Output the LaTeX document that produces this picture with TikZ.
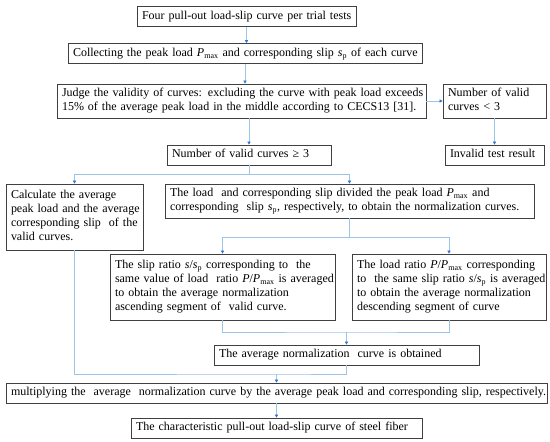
\documentclass[tikz,border=0pt]{standalone}
\usepackage{fontspec}
\setmainfont{Liberation Serif}
\usetikzlibrary{arrows.meta,calc}
\definecolor{lineblue}{HTML}{9DC3E6}
\definecolor{tipblue}{HTML}{2E75D0}
\definecolor{boxgray}{HTML}{404040}
\newcommand{\Pmx}{\textit{P}\textsubscript{max}}
\newcommand{\ssp}{\textit{s}\textsubscript{p}}
\newcommand{\tl}[1]{\begin{tabular}{@{}l@{}}#1\end{tabular}}
\begin{document}
\begin{tikzpicture}[x=1pt,y=-1pt,
  box/.style 2 args={draw=boxgray, line width=0.8pt, inner xsep=5pt, inner ysep=0pt, align=left,
    font=\fontsize{12}{14}\selectfont, anchor=center,
    minimum width=#1pt, text width=#1pt-10pt, minimum height=#2pt},
  conn/.style={draw=lineblue, line width=0.9pt},
  arr/.style={conn, -{Triangle[length=3pt,width=3.2pt,color=tipblue]}}]
\useasboundingbox (0,0) rectangle (550,442);

\node[box={219}{20}] (b1) at (246.5,16.5)
  {\tl{Four pull-out load-slip curve per trial tests}};
\node[box={354}{20}] (b2) at (245,53.5)
  {\tl{Collecting the peak load \Pmx{} and corresponding slip \ssp{} of each curve}};
\node[box={369}{34}] (b3) at (241.5,101)
  {\tl{Judge the validity of curves: excluding the curve with peak load exceeds\\15\% of the average peak load in the middle according to CECS13 [31].}};
\node[box={103}{34}] (b4) at (494.5,101)
  {\tl{Number of valid\\curves < 3}};
\node[box={99}{20}] (b5) at (494.5,155)
  {\tl{Invalid test result}};
\node[box={164}{20}] (b6) at (249,155)
  {\tl{Number of valid curves ≥ 3}};
\node[box={137}{66}] (b7) at (74.5,217)
  {\tl{Calculate the average\\peak load and the average\\corresponding slip\ \ of the\\valid curves.}};
\node[box={369}{34}] (b8) at (349.5,201)
  {\tl{The load\ \ and corresponding slip divided the peak load \Pmx{} and\\corresponding\ \ slip \ssp, respectively, to obtain the normalization curves.}};
\node[box={225}{66}] (b9) at (222.5,287)
  {\tl{The slip ratio \textit{s}/\ssp{} corresponding to\ \ the\\same value of load\ \ ratio \textit{P}/\Pmx{} is averaged\\to obtain the average normalization\\ascending segment of\ \ valid curve.}};
\node[box={194}{66}] (b10) at (449,287)
  {\tl{The load ratio \textit{P}/\Pmx{} corresponding\\to\ \ the same slip ratio \textit{s}/\ssp{} is averaged\\to obtain the average normalization\\descending segment of curve}};
\node[box={265}{20}] (b11) at (346.5,355)
  {\tl{The average normalization\ \ curve is obtained}};
\node[box={541}{20}] (b12) at (276.5,393)
  {\tl{multiplying the\ \ average\ \ normalization curve by the average peak load and corresponding slip, respectively.}};
\node[box={291}{20}] (b13) at (276.5,428)
  {\tl{The characteristic pull-out load-slip curve of steel fiber}};

% junction coordinates
\coordinate (j1) at (b6.south |- 0,174);
\coordinate (j2) at (b8.south |- 0,237);
\coordinate (j3) at (b11.north |- 0,332);
\coordinate (j4) at (b12.north |- 0,374);

\draw[arr] (b1.south) -- (b1.south |- b2.north);
\draw[arr] (b2.south) -- (b2.south |- b3.north);
\draw[arr] (b3.east) -- (b4.west);
\draw[arr] (b4.south) -- (b4.south |- b5.north);
\draw[arr] (b6.north |- b3.south) -- (b6.north);

\draw[conn] (b6.south) -- (j1);
\draw[arr] (j1) -| (b7.north);
\draw[arr] (j1) -| (b8.north);

\draw[conn] (b8.south) -- (j2);
\draw[arr] (j2) -| (b9.north);
\draw[arr] (j2) -| (b10.north);

\draw[conn] (b9.south) |- (j3) -| (b10.south);
\draw[arr] (j3) -- (b11.north);

\draw[conn] (b7.south) |- (j4) -| (b11.south);
\draw[arr] (j4) -- (b12.north);

\draw[arr] (b12.south) -- (b13.north);
\end{tikzpicture}
\end{document}
